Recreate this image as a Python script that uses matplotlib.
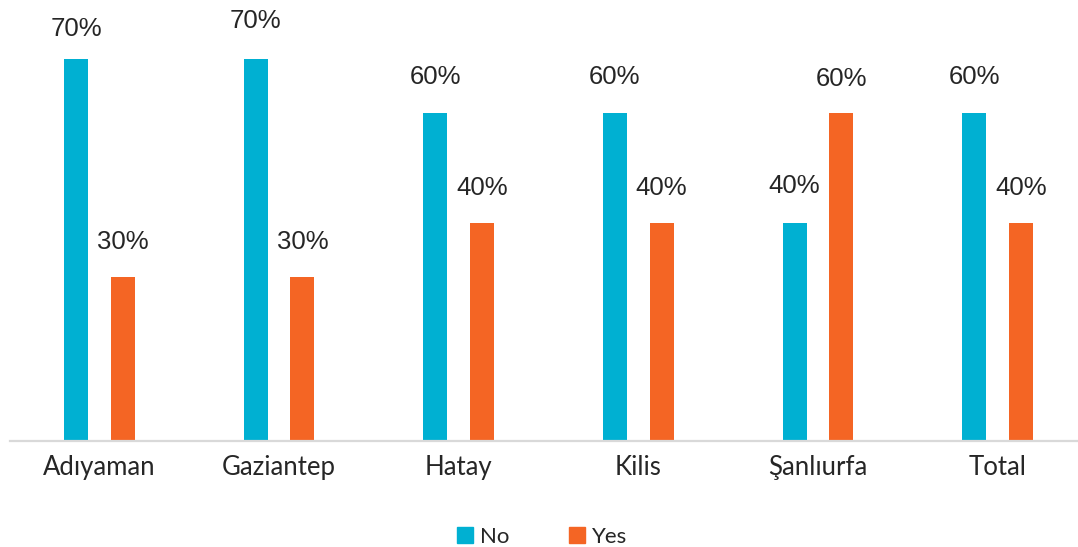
import matplotlib.pyplot as plt
import numpy as np
from matplotlib.patches import Patch

provinces = ["Adıyaman", "Gaziantep", "Hatay", "Kilis", "Şanlıurfa", "Total"]
no_share = [70, 70, 60, 60, 40, 60]
yes_share = [30, 30, 40, 40, 60, 40]

blue = "#00B0D2"
orange = "#F46524"
text_color = "#262626"

fig = plt.figure(figsize=(10.78, 5.47), dpi=100)
ax = fig.add_axes([9.7 / 1078, 1 - 441 / 547, 1077.6 / 1078, 437 / 547])

x = np.arange(len(provinces))
bar_width = 0.134
offset = 0.13

ax.bar(x - offset, no_share, width=bar_width, color=blue)
ax.bar(x + offset, yes_share, width=bar_width, color=orange)

# first label sits a little lower, the rest share one gap above the bar
no_label_gap = [21, 27, 26, 26, 26, 26]
label_style = dict(textcoords="offset points", ha="center", va="center", fontsize=18.5,
                   family="Liberation Sans", color=text_color, annotation_clip=False)
for xi, v, gap in zip(x, no_share, no_label_gap):
    ax.annotate(f"{v}%", (xi - offset, v), xytext=(0, gap), **label_style)
for xi, v in zip(x, yes_share):
    ax.annotate(f"{v}%", (xi + offset, v), xytext=(0, 25), **label_style)

ax.set_xlim(-0.5, len(provinces) - 0.5)
ax.set_ylim(0, 80)
ax.set_xticks(x)
ax.set_xticklabels(provinces, family="Lato", fontsize=18.5, color=text_color)
ax.tick_params(axis="x", length=0, pad=10)
ax.set_yticks([])
for side in ["top", "right", "left"]:
    ax.spines[side].set_visible(False)
ax.spines["bottom"].set_color("#d9d9d9")
ax.spines["bottom"].set_linewidth(1.6)

handles = [Patch(color=blue, label="No"), Patch(color=orange, label="Yes")]
fig.legend(handles=handles, loc="center", bbox_to_anchor=(542 / 1078, 1 - 537 / 547), ncol=2,
           frameon=False, prop={"family": "Lato", "size": 16}, labelcolor=text_color,
           handlelength=0.72, handleheight=0.72, handletextpad=0.3, columnspacing=2.7,
           borderaxespad=0, borderpad=0)

fig.savefig("out.png", dpi=100)
